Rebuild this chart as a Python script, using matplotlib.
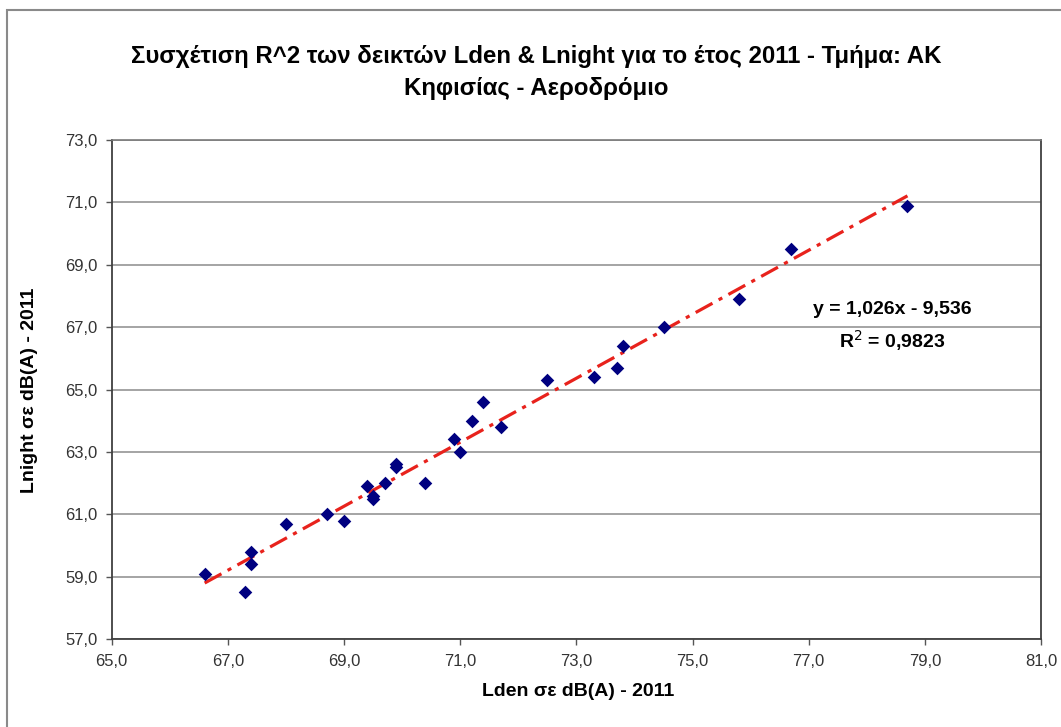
import numpy as np
import matplotlib.pyplot as plt
from matplotlib.patches import Rectangle
from matplotlib.ticker import FuncFormatter

plt.rcParams['font.family'] = ['Liberation Sans', 'DejaVu Sans']

# Lden / Lnight 2011 values
lden = [66.6, 67.3, 67.4, 67.4, 68.0, 68.7, 69.0, 69.4, 69.5, 69.5,
        69.7, 69.9, 69.9, 70.4, 70.9, 71.0, 71.2, 71.4, 71.7, 72.5,
        73.3, 73.7, 73.8, 74.5, 75.8, 76.7, 78.7]
lnight = [59.1, 58.5, 59.8, 59.4, 60.7, 61.0, 60.8, 61.9, 61.5, 61.6,
          62.0, 62.6, 62.5, 62.0, 63.4, 63.0, 64.0, 64.6, 63.8, 65.3,
          65.4, 65.7, 66.4, 67.0, 67.9, 69.5, 70.9]

slope = 1.026
intercept = -9.536
r2 = 0.9823

title = "Συσχέτιση R^2 των δεικτών Lden & Lnight για το έτος 2011 - Τμήμα: ΑΚ\nΚηφισίας - Αεροδρόμιο"
xlabel = "Lden σε dB(A) - 2011"
ylabel = "Lnight σε dB(A) - 2011"

W, H = 1061, 727
fig = plt.figure(figsize=(W / 100, H / 100), dpi=100)
ax = fig.add_axes([0.1053, 0.1210, 0.8759, 0.6864])

# outer chart frame
fig.patches.append(Rectangle((7 / W, -0.05), 1.2, 1 - 10 / H + 0.05,
                             transform=fig.transFigure, fill=False,
                             edgecolor='#8a8a8a', linewidth=1.5))

ax.scatter(lden, lnight, marker='D', s=48, color='#000080', zorder=3, linewidths=0)

xt = np.array([min(lden), max(lden)])
ax.plot(xt, slope * xt + intercept, color='#e8221c', linewidth=2.3,
        linestyle=(0, (6, 2.2, 1.3, 2.2)), dash_capstyle='butt', zorder=2)

ax.set_xlim(65, 81)
ax.set_ylim(57, 73)
ax.set_xticks(np.arange(65, 81.1, 2))
ax.set_yticks(np.arange(57, 73.1, 2))
fmt = FuncFormatter(lambda v, p: f"{v:.1f}".replace('.', ','))
ax.xaxis.set_major_formatter(fmt)
ax.yaxis.set_major_formatter(fmt)
ax.tick_params(labelsize=12, labelcolor='#333333', color='#555555',
               length=4, width=1, direction='out')
ax.tick_params(axis='x', pad=7)
ax.tick_params(axis='y', pad=6)

ax.grid(axis='y', color='#8c8c8c', linewidth=1.1)
ax.set_axisbelow(True)
for s in ['left', 'bottom', 'right']:
    ax.spines[s].set_color('#404040')
    ax.spines[s].set_linewidth(1.3)
ax.spines['top'].set_color('#7a7a7a')
ax.spines['top'].set_linewidth(1.2)

fig.text(0.505, 1 - 72.5 / H, title, ha='center', va='center', fontsize=17.3,
         fontweight='bold', linespacing=1.5)
fig.text(578 / W, 1 - 692 / H, xlabel, ha='center', va='center',
         fontsize=14, fontweight='bold')
fig.text(29 / W, 1 - 390 / H, ylabel, rotation=90, ha='center', va='center',
         fontsize=14, fontweight='bold')

fig.text(892 / W, 1 - 309 / H, "y = 1,026x - 9,536", ha='center', va='center',
         fontsize=14, fontweight='bold')
fig.text(892 / W, 1 - 341 / H, "R$^{2}$ = 0,9823", ha='center', va='center',
         fontsize=14, fontweight='bold')

fig.savefig("out.png", dpi=100)
